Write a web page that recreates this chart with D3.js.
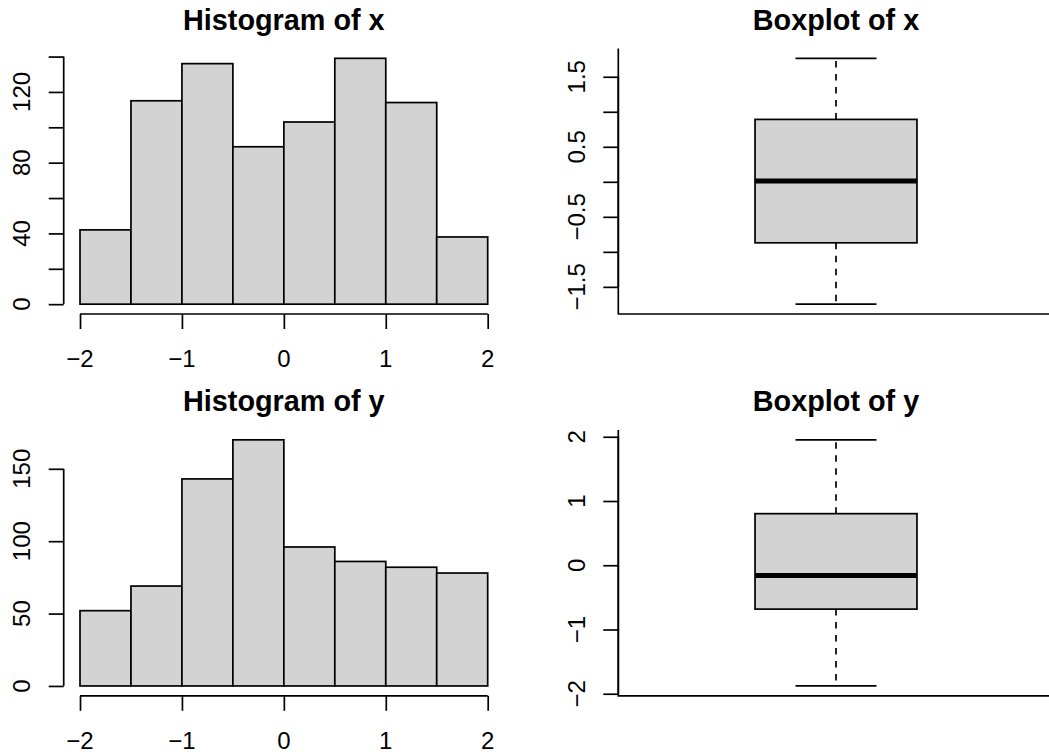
<!DOCTYPE html>
<html>
<head>
<meta charset="utf-8">
<script src="https://cdn.jsdelivr.net/npm/d3@7"></script>
<style>
  body { margin: 0; background: #fff; }
  svg { display: block; }
  text { font-family: "Liberation Sans", Arial, Helvetica, sans-serif; fill: #000; }
</style>
</head>
<body>
<div id="graph"></div>
<script>
// histogram bins (shared breaks) and counts
const breaks = [-2, -1.5, -1, -0.5, 0, 0.5, 1, 1.5, 2];
const countsX = [42, 115, 136, 89, 103, 139, 114, 38];
const countsY = [52, 69, 143, 170, 96, 86, 82, 78];

// boxplot stats: lower whisker, Q1, median, Q3, upper whisker
const statsX = [-1.747, -0.871, 0.01, 0.891, 1.763];
const statsY = [-1.879, -0.683, -0.16, 0.803, 1.952];

// ticks and which of them R kept a label for
const histTicksX = [-2, -1, 0, 1, 2];
const countTicksX = [0, 20, 40, 60, 80, 100, 120, 140];
const countLabelsX = [0, 40, 80, 120];
const countTicksY = [0, 50, 100, 150];
const boxTicksX = [-1.5, -1, -0.5, 0, 0.5, 1, 1.5];
const boxLabelsX = [-1.5, -0.5, 0.5, 1.5];
const boxTicksY = [-2, -1, 0, 1, 2];

const W = 1049, H = 752;
const lw = 1.7, fill = "#D3D3D3", tick = 15;
const fmt = v => String(v).replace("-", "\u2212");

const svg = d3.select("#graph").append("svg").attr("width", W).attr("height", H);

// plot regions
const rows = [[48.5, 314], [430, 695.8]];
const cols = {hist: [63.7, 504], box: [618.3, 1053.7]};

function pad(lo, hi) { const d = (hi - lo) * 0.04; return [lo - d, hi + d]; }

function yAxis(g, y, ticks, labels, x0) {
  const ax = g.append("g").attr("transform", "translate(" + x0 + ",0)")
    .call(d3.axisLeft(y).tickValues(ticks).tickSize(tick).tickSizeOuter(0).tickFormat(""));
  ax.select(".domain").remove();
  ax.selectAll(".tick line").attr("stroke", "#000").attr("stroke-width", lw);
  ax.append("line").attr("x1", 0).attr("x2", 0)
    .attr("y1", y(d3.min(ticks))).attr("y2", y(d3.max(ticks)))
    .attr("stroke", "#000").attr("stroke-width", lw);
  g.append("g").selectAll("text").data(labels).join("text")
    .attr("transform", d => "translate(" + (x0 - 33.7) + "," + y(d) + ") rotate(-90)")
    .attr("text-anchor", "middle").style("font-size", "24px").text(fmt);
}

function title(g, txt, cx, top) {
  g.append("text").attr("x", cx).attr("y", top - 18.6).attr("text-anchor", "middle")
    .style("font-size", "28.8px").style("font-weight", "bold").text(txt);
}

function histogram(row, counts, countTicks, countLabels, name) {
  const [top, bottom] = rows[row], [left, right] = cols.hist;
  const x = d3.scaleLinear().domain(pad(breaks[0], breaks[breaks.length - 1])).range([left, right]);
  const y = d3.scaleLinear().domain(pad(0, d3.max(counts))).range([bottom, top]);
  const g = svg.append("g");

  g.append("g").selectAll("rect").data(counts).join("rect")
    .attr("x", (d, i) => x(breaks[i]))
    .attr("width", (d, i) => x(breaks[i + 1]) - x(breaks[i]))
    .attr("y", d => y(d))
    .attr("height", d => y(0) - y(d))
    .attr("fill", fill).attr("stroke", "#000").attr("stroke-width", lw);

  const ax = g.append("g").attr("transform", "translate(0," + bottom + ")")
    .call(d3.axisBottom(x).tickValues(histTicksX).tickSize(tick).tickSizeOuter(0).tickFormat(""));
  ax.select(".domain").remove();
  ax.selectAll(".tick line").attr("stroke", "#000").attr("stroke-width", lw);
  ax.append("line").attr("x1", x(histTicksX[0])).attr("x2", x(histTicksX[histTicksX.length - 1]))
    .attr("stroke", "#000").attr("stroke-width", lw);
  g.append("g").selectAll("text").data(histTicksX).join("text")
    .attr("x", d => x(d)).attr("y", bottom + 53)
    .attr("text-anchor", "middle").style("font-size", "24px").text(fmt);

  yAxis(g, y, countTicks, countLabels, left);
  title(g, "Histogram of " + name, (left + right) / 2, top);
}

function boxplot(row, s, ticks, labels, name) {
  const [top, bottom] = rows[row], [left, right] = cols.box;
  const x = d3.scaleLinear().domain([0.5, 1.5]).range([left, right]);
  const y = d3.scaleLinear().domain(pad(s[0], s[4])).range([bottom, top]);
  const g = svg.append("g");
  const half = 0.186, cap = 0.093;

  // whiskers
  g.append("g").selectAll("line").data([[s[3], s[4]], [s[1], s[0]]]).join("line")
    .attr("x1", x(1)).attr("x2", x(1)).attr("y1", d => y(d[0])).attr("y2", d => y(d[1]))
    .attr("stroke", "#000").attr("stroke-width", lw).attr("stroke-dasharray", "6.5,6.5");
  g.append("g").selectAll("line").data([s[0], s[4]]).join("line")
    .attr("x1", x(1 - cap)).attr("x2", x(1 + cap)).attr("y1", d => y(d)).attr("y2", d => y(d))
    .attr("stroke", "#000").attr("stroke-width", lw);
  // box
  g.append("rect").attr("x", x(1 - half)).attr("width", x(1 + half) - x(1 - half))
    .attr("y", y(s[3])).attr("height", y(s[1]) - y(s[3]))
    .attr("fill", fill).attr("stroke", "#000").attr("stroke-width", lw);
  g.append("line").attr("x1", x(1 - half)).attr("x2", x(1 + half))
    .attr("y1", y(s[2])).attr("y2", y(s[2]))
    .attr("stroke", "#000").attr("stroke-width", 5);

  // L-shaped frame
  g.append("path").attr("d", "M" + left + "," + top + "V" + bottom + "H" + right)
    .attr("fill", "none").attr("stroke", "#000").attr("stroke-width", lw);

  yAxis(g, y, ticks, labels, left);
  title(g, "Boxplot of " + name, (left + right) / 2, top);
}

histogram(0, countsX, countTicksX, countLabelsX, "x");
boxplot(0, statsX, boxTicksX, boxLabelsX, "x");
histogram(1, countsY, countTicksY, countTicksY, "y");
boxplot(1, statsY, boxTicksY, boxTicksY, "y");
</script>
</body>
</html>
